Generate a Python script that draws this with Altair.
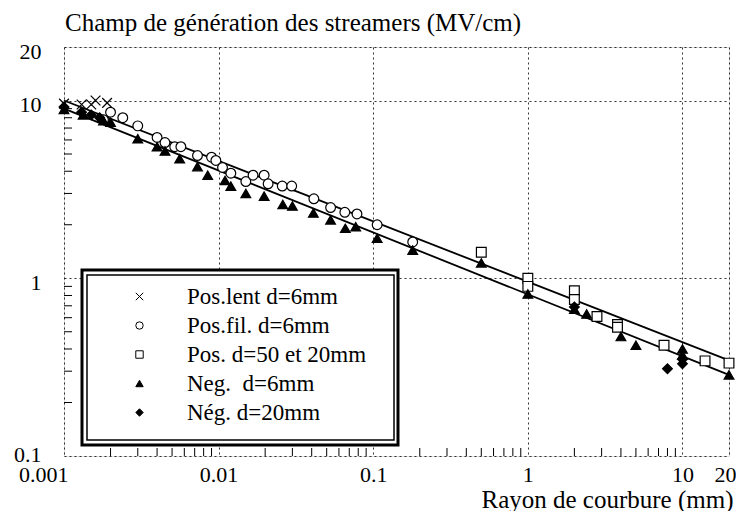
import altair as alt
import pandas as pd

title_text = "Champ de génération des streamers (MV/cm)"
x_title = "Rayon de courbure (mm)"
series = ["Pos.lent d=6mm", "Pos.fil. d=6mm", "Pos. d=50 et 20mm",
          "Neg.\u00a0 d=6mm", "Nég. d=20mm"]

# Pos.lent d=6mm (crosses)
lent_x = [0.001, 0.0013, 0.0015, 0.0016, 0.0019]
lent_y = [9.6, 9.5, 9.5, 10.0, 9.7]
# Pos.fil. d=6mm (open circles)
fil_x = [0.0018, 0.002, 0.0024, 0.0030, 0.0040, 0.0045, 0.0052, 0.0057, 0.0073,
         0.0090, 0.0096, 0.0106, 0.0120, 0.0150, 0.0167, 0.0197, 0.0209, 0.0258,
         0.0297, 0.0413, 0.053, 0.0655, 0.0785, 0.106, 0.18]
fil_y = [7.8, 8.6, 8.0, 7.2, 6.2, 5.8, 5.5, 5.5, 4.9,
         4.8, 4.6, 4.2, 3.9, 3.5, 3.8, 3.8, 3.4, 3.3,
         3.3, 2.8, 2.5, 2.35, 2.3, 2.0, 1.6]
# Pos. d=50 et 20mm (open squares)
sq_x = [0.5, 1, 1, 2, 2, 2.8, 3.8, 3.8, 7.6, 14, 20]
sq_y = [1.40, 1.0, 0.90, 0.85, 0.76, 0.61, 0.55, 0.53, 0.42, 0.343, 0.333]
# Neg. d=6mm (filled triangles)
tri_x = [0.001, 0.00133, 0.0018, 0.002, 0.003, 0.004, 0.0045, 0.0056, 0.0073,
         0.0085, 0.011, 0.012, 0.015, 0.0197, 0.026, 0.030, 0.041, 0.053, 0.066,
         0.077, 0.106, 0.18, 0.5, 1, 2, 2.4, 4, 5, 10, 10, 20]
tri_y = [8.9, 8.3, 7.7, 7.55, 6.1, 5.5, 5.2, 4.7, 4.25,
         3.8, 3.55, 3.3, 3.0, 2.9, 2.6, 2.55, 2.33, 2.13, 1.91,
         1.95, 1.68, 1.44, 1.22, 0.815, 0.67, 0.63, 0.47, 0.42, 0.40, 0.37, 0.286]
# Nég. d=20mm (filled diamonds)
dia_x = [0.001, 0.0013, 0.0015, 0.0017, 2, 8, 10, 10]
dia_y = [9.2, 8.6, 8.3, 8.0, 0.69, 0.31, 0.35, 0.33]

# fitted lines (end points)
line_x = [0.001, 20]
pos_line_y = [10.0, 0.345]
neg_line_y = [9.0, 0.286]

x_labels = [0.001, 0.01, 0.1, 1, 10, 20]
y_labels = [0.1, 1, 10, 20]
x_minor = [m * d for d in [0.001, 0.01, 0.1, 1] for m in range(2, 10)]
y_minor = [m * d for d in [0.1, 1] for m in range(2, 10)]

W, H = 665, 409
FONT = "Liberation Serif"

rows = []
for name, xs_, ys_ in zip(series, [lent_x, fil_x, sq_x, tri_x, dia_x],
                          [lent_y, fil_y, sq_y, tri_y, dia_y]):
    for a, b in zip(xs_, ys_):
        rows.append({"x": a, "y": b, "serie": name})
pts_df = pd.DataFrame(rows)

line_df = pd.DataFrame({
    "x": line_x + line_x,
    "y": pos_line_y + neg_line_y,
    "grp": ["pos", "pos", "neg", "neg"],
})

xscale = alt.Scale(type="log", domain=[0.001, 20], nice=False)
yscale = alt.Scale(type="log", domain=[0.1, 20], nice=False)

cross = "M-1,-1L1,1M1,-1L-1,1"
shapes = [cross, "circle", "square", "triangle-up", "diamond"]
fills = ["transparent", "white", "white", "black", "black"]
strokes = ["black"] * 5

legend = alt.Legend(
    title=None, orient="none", legendX=33, legendY=238,
    strokeColor="transparent", fillColor="transparent",
    labelFont=FONT, labelFontSize=23, labelColor="black", labelLimit=400,
    symbolSize=55, symbolStrokeWidth=1,
    symbolOffset=31, labelOffset=36, rowPadding=5,
)

xaxis = alt.Axis(
    values=x_labels, format="~g", grid=True, gridDash=[2, 3], gridColor="black",
    gridOpacity=0.8, ticks=False, domain=False, labelFont=FONT, labelFontSize=22,
    labelColor="black", labelPadding=8, labelBaseline="top",
    labelAlign={"expr": "datum.value <= 0.001 ? 'right' : 'center'"},
    labelOffset={"expr": "datum.value <= 0.001 ? 4 : (datum.value >= 20 ? -4 : 0)"},
    labelFlush=False, labelOverlap=False,
    title=x_title, titleFont=FONT, titleFontSize=25, titleFontWeight="normal",
    titleColor="black", titleAlign="right", titleX=W + 4, titleY=51,
    titleBaseline="alphabetic", titleAnchor="end",
)
yaxis = alt.Axis(
    values=y_labels, format="~g", grid=True, gridDash=[2, 3], gridColor="black",
    gridOpacity=0.8, ticks=False, domain=False, labelFont=FONT, labelFontSize=22,
    labelColor="black", labelPadding=23, labelBaseline="middle",
    labelOffset={"expr": "datum.value <= 0.1 ? -2 : 4"},
    labelOverlap=False, title=None,
)

xt = alt.Chart(pd.DataFrame({"v": x_minor})).mark_rule(color="black", strokeWidth=1).encode(
    x=alt.X("v:Q", scale=xscale, axis=xaxis),
    y=alt.value(H), y2=alt.value(H - 8),
)
yt = alt.Chart(pd.DataFrame({"v": y_minor})).mark_rule(color="black", strokeWidth=1).encode(
    y=alt.Y("v:Q", scale=yscale, axis=yaxis),
    x=alt.value(0), x2=alt.value(8),
)

lines = alt.Chart(line_df).mark_line(color="black", strokeWidth=1.8).encode(
    x=alt.X("x:Q", scale=xscale, axis=xaxis),
    y=alt.Y("y:Q", scale=yscale, axis=yaxis),
    detail="grp:N",
)

# legend frame: thick outer border and thin inner border
outer = alt.Chart(pd.DataFrame({"a": [0]})).mark_rect(
    fill="white", stroke="black", strokeWidth=3
).encode(
    x=alt.value(18), x2=alt.value(334), y=alt.value(223), y2=alt.value(398),
)
inner = alt.Chart(pd.DataFrame({"a": [0]})).mark_rect(
    fill="transparent", stroke="black", strokeWidth=1.5
).encode(
    x=alt.value(23), x2=alt.value(330), y=alt.value(228), y2=alt.value(393),
)

title_mark = alt.Chart(pd.DataFrame({"t": [title_text]})).mark_text(
    align="left", baseline="alphabetic", font=FONT, fontSize=25, color="black"
).encode(
    text="t:N", x=alt.value(1), y=alt.value(-16),
)

pts = alt.Chart(pts_df).mark_point(opacity=1, size=95, strokeWidth=1.2).encode(
    x=alt.X("x:Q", scale=xscale, axis=xaxis),
    y=alt.Y("y:Q", scale=yscale, axis=yaxis),
    shape=alt.Shape("serie:N", scale=alt.Scale(domain=series, range=shapes), legend=legend),
    fill=alt.Fill("serie:N", scale=alt.Scale(domain=series, range=fills), legend=legend),
    stroke=alt.Stroke("serie:N", scale=alt.Scale(domain=series, range=strokes), legend=legend),
)

chart = alt.layer(xt, yt, lines, outer, inner, pts, title_mark).properties(
    width=W, height=H,
    autosize=alt.AutoSizeParams(type="none"),
    padding={"left": 56, "top": 39, "right": 7, "bottom": 55},
).configure_view(
    stroke="black", strokeWidth=1.5
).configure_legend(
    strokeWidth=0, padding=22, cornerRadius=0,
).configure(background="white")

chart.save("out.html", embed_options={"renderer": "svg", "actions": False})
